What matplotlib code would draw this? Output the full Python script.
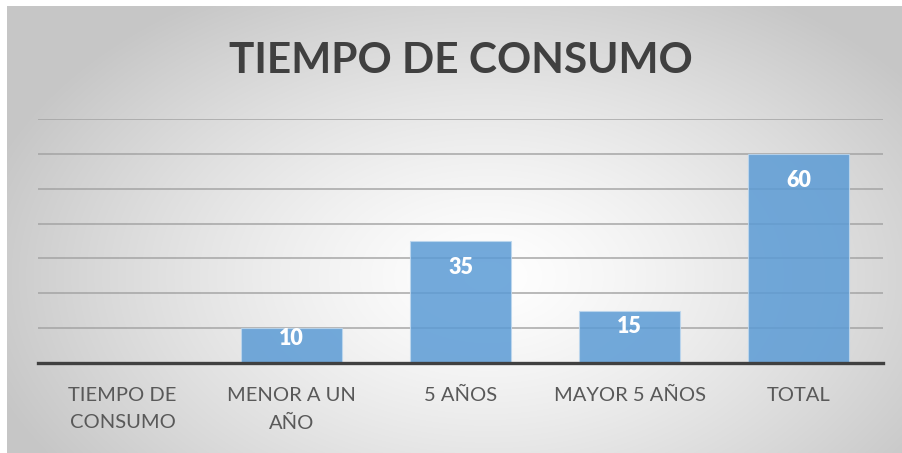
import numpy as np
import matplotlib
matplotlib.use("Agg")
import matplotlib.pyplot as plt
import matplotlib.transforms as mtrans

categories = ["TIEMPO DE\nCONSUMO", "MENOR A UN\nAÑO", "5 AÑOS", "MAYOR 5 AÑOS", "TOTAL"]
values = [None, 10, 35, 15, 60]
title = "TIEMPO DE CONSUMO"

W, H = 902, 453
fig = plt.figure(figsize=(W / 100, H / 100), dpi=100)
fig.patch.set_facecolor("white")

# gradient background
bg = fig.add_axes([7 / W, 0, 1 - 7 / W, 1 - 6 / H])
bg.set_axis_off()
yy, xx = np.mgrid[0:447, 0:895]
cx, cy = 480, 270
r = np.sqrt(((xx - cx) / 520.0) ** 2 + ((yy - cy) / 330.0) ** 2)
r = np.clip(r, 0, 1)
g = 1.0 - 0.22 * r ** 1.3
img = np.dstack([g, g, g])
bg.imshow(img, aspect="auto", extent=[0, 1, 0, 1], origin="upper")
bg.set_xlim(0, 1)
bg.set_ylim(0, 1)

font = "Lato"

ax = fig.add_axes([38 / W, (H - 363) / H, 845 / W, (363 - 119) / H])
ax.patch.set_alpha(0)
ax.set_xlim(-0.5, len(categories) - 0.5)
ax.set_ylim(0, 70)
for s in ax.spines.values():
    s.set_visible(False)
ax.set_yticks(np.arange(10, 71, 10))
ax.yaxis.grid(True, color="#a0a0a0", linewidth=1.2, alpha=0.85)
ax.set_axisbelow(True)
ax.tick_params(left=False, labelleft=False, bottom=False, labelbottom=False)
ax.axhline(0, color="#404040", linewidth=2.4, zorder=5, clip_on=False)

xs = [i for i, v in enumerate(values) if v is not None]
vs = [v for v in values if v is not None]
bars = ax.bar(xs, vs, width=0.6, color="#5B9BD5", alpha=0.85,
              edgecolor="#BDD7EE", linewidth=0.8, zorder=3)

px_per_unit = (363 - 119) / 70.0
for x, v in zip(xs, vs):
    off = min(27, v * px_per_unit * 0.3)
    ax.annotate(str(v), xy=(x, v), xytext=(0, -off * 0.72), textcoords="offset points",
                ha="center", va="center", color="white", fontsize=15.5,
                fontweight="heavy", family=font, zorder=6)

trans = mtrans.blended_transform_factory(ax.transData, fig.transFigure)
for i, c in enumerate(categories):
    ax.text(i, (H - 387) / H, c, transform=trans, ha="center", va="top",
            color="#595959", fontsize=14.5, family=font, linespacing=1.75)

fig.text(461 / W, (H - 61) / H, title, ha="center", va="center",
         fontsize=30.5, fontweight="bold", color="#404040", family=font)

fig.savefig("out.png", dpi=100)
